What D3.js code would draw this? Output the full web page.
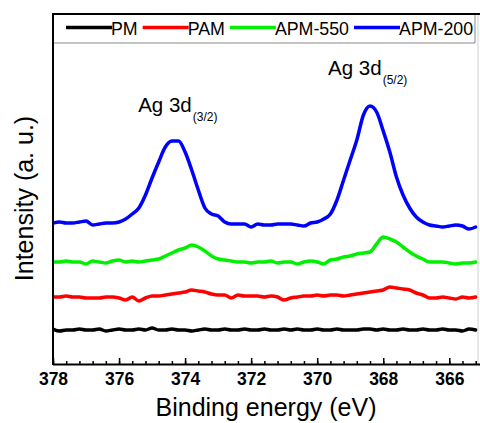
<!DOCTYPE html>
<html>
<head>
<meta charset="utf-8">
<script src="https://cdn.jsdelivr.net/npm/d3@7/dist/d3.min.js"></script>
<style>
  body { margin: 0; background: #fff; }
  svg { display: block; font-family: "Liberation Sans", Arial, sans-serif; }
</style>
</head>
<body>
<svg id="chart" width="480" height="423"></svg>
<script>
// Binding-energy sampling grid (eV), 0.2 eV steps from 378 down to 365.2
const energy = d3.range(65).map(i => +(378 - 0.2 * i).toFixed(1));

const seriesNames = ["PM", "PAM", "APM-550", "APM-200"];
const seriesColors = ["#000000", "#ff0000", "#00f000", "#0000ff"];

// Intensities (a. u., stacked offsets included)
const pm = [35,33,34,34,35,34,34,35,33,34,35,34,34,35,34,36,34,34,35,34,34,33,34,35,34,34,35,34,34,35,34,34,35,34,34,35,34,35,34,34,35,34,34,35,34,34,34,35,35,34,35,34,34,35,34,34,35,34,34,35,34,34,33,35,34];
const pam = [67,67,68,67,67,66,66,66,67,67,66,64,67,63,66,68,68,69,70,71,72,74,73,72,70,69,69,66,69,68,68,68,67,68,67,64,66,67,68,68,69,68,69,69,68,69,70,71,72,73,74,77,76,75,74,71,69,66,66,67,66,65,67,66,67];
const apm550 = [102,102,103,102,102,100,103,102,101,103,104,102,103,102,103,104,105,108,111,114,116,119,117,113,108,105,104,103,102,102,101,102,102,103,101,102,102,100,102,103,102,100,104,105,107,108,110,111,112,120,127,125,122,117,112,108,105,102,102,102,101,100,101,101,102];
const apm200 = [141,142,141,141,142,143,139,140,141,141,142,145,150,156,169,186,202,217,223,223,212,194,174,156,150,148,142,140,140,140,137,140,139,139,140,140,140,139,138,141,142,145,150,164,184,204,224,249,258,252,233,212,187,169,156,147,142,139,138,137,138,139,138,135,137];
const seriesValues = [pm, pam, apm550, apm200];

const xTicks = [378, 376, 374, 372, 370, 368, 366];
const xMinorTicks = d3.range(33).map(i => +(378 - 0.4 * i).toFixed(1));

const peakLabels = [
  { main: "Ag 3d", sub: "(3/2)", e: 375.42, v: 252 },
  { main: "Ag 3d", sub: "(5/2)", e: 369.67, v: 289 }
];

const W = 480, H = 423;
const plot = { left: 53, top: 13, right: 479, bottom: 364 };

const svg = d3.select("#chart");

const x = d3.scaleLinear().domain([378, 365.1]).range([plot.left, plot.right]);
const y = d3.scaleLinear().domain([0, 351]).range([plot.bottom, plot.top]);

// Clip region for the curves
svg.append("clipPath").attr("id", "plotClip")
  .append("rect")
  .attr("x", plot.left).attr("y", plot.top)
  .attr("width", plot.right - plot.left).attr("height", plot.bottom - plot.top);

// Curves
const line = d3.line()
  .x(d => x(d[0]))
  .y(d => y(d[1]))
  .curve(d3.curveMonotoneX);

seriesValues.forEach((vals, k) => {
  svg.append("path")
    .datum(energy.map((e, i) => [e, vals[i]]))
    .attr("clip-path", "url(#plotClip)")
    .attr("fill", "none")
    .attr("stroke", seriesColors[k])
    .attr("stroke-width", 3.5)
    .attr("stroke-linejoin", "round")
    .attr("stroke-linecap", "round")
    .attr("d", line);
});

// Right border (light)
svg.append("line")
  .attr("x1", plot.right - 1).attr("x2", plot.right - 1)
  .attr("y1", plot.top).attr("y2", plot.bottom)
  .attr("stroke", "#d0d0d0").attr("stroke-width", 1);

// Legend box
const legendRight = 475, legendBottom = 43;
svg.append("path")
  .attr("d", `M${plot.left},${legendBottom}H${legendRight}V${plot.top}`)
  .attr("fill", "none")
  .attr("stroke", "#888").attr("stroke-width", 1);

const legend = svg.append("g");
let lx = 66;
const lineLen = 46, legY = 27.5;
seriesNames.forEach((name, k) => {
  legend.append("line")
    .attr("x1", lx).attr("x2", lx + lineLen)
    .attr("y1", legY).attr("y2", legY)
    .attr("stroke", seriesColors[k]).attr("stroke-width", 3.5);
  const t = legend.append("text")
    .attr("x", lx + lineLen - 1).attr("y", 34.5)
    .attr("font-size", 17.8)
    .attr("fill", "#000")
    .text(name);
  lx = lx + lineLen - 1 + t.node().getComputedTextLength() + 5;
});

// Top frame
svg.append("line")
  .attr("x1", plot.left).attr("x2", W)
  .attr("y1", plot.top + 1).attr("y2", plot.top + 1)
  .attr("stroke", "#000").attr("stroke-width", 2);

// Left axis line
svg.append("line")
  .attr("x1", plot.left).attr("x2", plot.left)
  .attr("y1", plot.top).attr("y2", plot.bottom + 1)
  .attr("stroke", "#000").attr("stroke-width", 2);

// Bottom axis: minor ticks
svg.append("g")
  .attr("transform", `translate(0,${plot.bottom})`)
  .call(d3.axisBottom(x).tickValues(xMinorTicks).tickSizeInner(-3).tickSizeOuter(0).tickFormat(""))
  .call(g => g.select(".domain").remove())
  .call(g => g.selectAll(".tick line").attr("stroke", "#000").attr("stroke-width", 1.5));

// Bottom axis: major ticks and labels
const xAxis = svg.append("g")
  .attr("transform", `translate(0,${plot.bottom})`)
  .call(d3.axisBottom(x).tickValues(xTicks).tickSizeInner(-6).tickSizeOuter(0).tickPadding(9).tickFormat(d3.format("d")));
xAxis.select(".domain").attr("stroke", "#000").attr("stroke-width", 2)
  .attr("d", `M${plot.left},0.5H${W}`);
xAxis.selectAll(".tick line").attr("stroke", "#000").attr("stroke-width", 1.5);
xAxis.selectAll(".tick text")
  .attr("font-family", "'Liberation Sans', Arial, sans-serif")
  .attr("font-size", 17.5).attr("font-weight", "bold").attr("fill", "#000");

// Axis titles
svg.append("text")
  .attr("x", (plot.left + plot.right) / 2).attr("y", 416)
  .attr("text-anchor", "middle")
  .attr("font-size", 25).attr("fill", "#000")
  .text("Binding energy (eV)");

svg.append("text")
  .attr("transform", `translate(33,${(plot.top + plot.bottom) / 2 + 10}) rotate(-90)`)
  .attr("text-anchor", "middle")
  .attr("font-size", 25).attr("fill", "#000")
  .text("Intensity (a. u.)");

// Peak annotations
peakLabels.forEach(p => {
  const t = svg.append("text")
    .attr("x", x(p.e)).attr("y", y(p.v))
    .attr("font-size", 20.5).attr("fill", "#000");
  t.append("tspan").text(p.main);
  t.append("tspan").attr("font-size", 12).attr("dy", 8.5).attr("dx", 1).text(p.sub);
});
</script>
</body>
</html>
